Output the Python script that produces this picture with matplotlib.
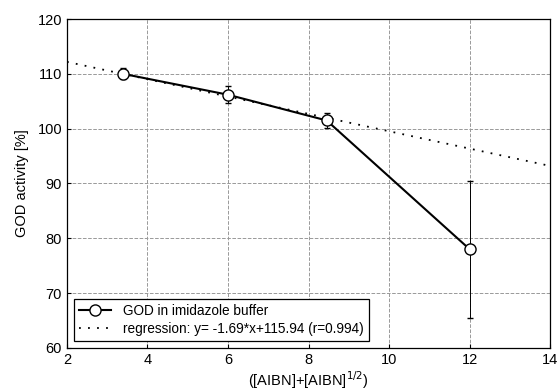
import numpy as np
import matplotlib
matplotlib.use('Agg')
import matplotlib.pyplot as plt
from matplotlib.lines import Line2D

plt.rcParams['font.family'] = ['Liberation Sans', 'DejaVu Sans']

# measured data
x_vals = [3.4, 6.0, 8.45, 12.0]
activity = [110.0, 106.2, 101.5, 78.0]
errors = [1.0, 1.6, 1.3, 12.5]

# regression line as drawn (x from 2 to 14)
reg_x = [2.0, 14.0]
reg_y = [112.2, 93.2]

fig = plt.figure(figsize=(5.58, 3.9), dpi=100)
ax = fig.add_axes([0.12, 0.108, 0.866, 0.843])

ax.plot(reg_x, reg_y, color='black', linestyle=(0, (1, 4)),
        linewidth=1.3, zorder=2)
ax.errorbar(x_vals, activity, yerr=errors, color='black', linewidth=1.5,
            marker='o', markersize=8, markerfacecolor='white', markeredgecolor='black',
            markeredgewidth=1.0, ecolor='black', elinewidth=0.7, capsize=2.5,
            zorder=3)

ax.set_xlim(2, 14)
ax.set_ylim(60, 120)
ax.set_xticks(range(2, 15, 2))
ax.set_yticks(range(60, 121, 10))
ax.grid(True, color='#999999', linestyle='--', linewidth=0.7)
ax.set_axisbelow(True)
ax.tick_params(labelsize=10.5, direction='in', length=3)
for s in ax.spines.values():
    s.set_linewidth(0.9)

ax.set_xlabel('([AIBN]+[AIBN]$^{1/2}$)', fontsize=10.5, labelpad=2)
ax.set_ylabel('GOD activity [%]', fontsize=10.5, labelpad=6)

handles = [
    Line2D([], [], color='black', linewidth=1.5, marker='o', markersize=8,
           markerfacecolor='white', markeredgecolor='black'),
    Line2D([], [], color='black', linestyle=(0, (1, 4)), linewidth=1.3),
]
labels = ['GOD in imidazole buffer', 'regression: y= -1.69*x+115.94 (r=0.994)']
leg = ax.legend(handles, labels, loc='lower left', fontsize=9.8,
                fancybox=False, edgecolor='black', framealpha=1,
                borderaxespad=0.5, handlelength=2.3, labelspacing=0.25,
                handletextpad=0.9)
leg.get_frame().set_linewidth(0.9)

fig.savefig('out.png', dpi=100)
